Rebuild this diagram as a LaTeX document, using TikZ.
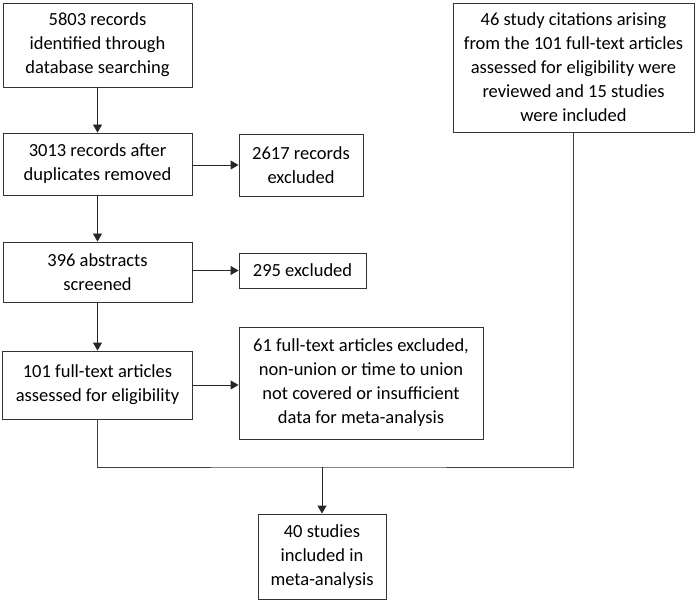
\documentclass[tikz,border=0pt]{standalone}
\usepackage{fontspec}
\setmainfont{Carlito}
\usetikzlibrary{arrows.meta}

\begin{document}
\begin{tikzpicture}[
		x=1pt, y=-1pt,
		every node/.style={rectangle, draw=black!80, line width=0.9pt, align=center, inner sep=0pt,
			font=\fontsize{18.5}{24}\selectfont},
		arr/.style={draw=black!85, line width=0.9pt, -{Triangle[length=8pt, width=9pt]}},
		ln/.style={draw=black!75, line width=0.9pt}
	]
  \useasboundingbox (0,0) rectangle (700,601);
  \node (rec_db) [minimum width=189pt, minimum height=84pt] at (97.5, 45) {5803 records\\identified through\\database searching};
  \node (rec_dup) [minimum width=189pt, minimum height=62pt] at (97.5, 164) {3013 records after\\duplicates removed};
  \node (rec_excl) [minimum width=124pt, minimum height=62pt] at (301, 165) {2617 records\\excluded};
  \node (abs_scr) [minimum width=189pt, minimum height=60pt] at (97.5, 272) {396 abstracts\\screened};
  \node (abs_excl) [minimum width=127pt, minimum height=35pt] at (302.5, 270.5) {295 excluded};
  \node (full_txt) [minimum width=190pt, minimum height=68pt] at (97.5, 385) {101 full-text articles\\assessed for eligibility};
  \node (full_excl) [minimum width=244pt, minimum height=112pt] at (361, 383) {61 full-text articles excluded,\\non-union or time to union\\not covered or insufficient\\data for meta-analysis};
  \node (cit) [minimum width=241pt, minimum height=129pt] at (573.5, 67.5) {46 study citations arising\\from the 101 full-text articles\\assessed for eligibility were\\reviewed and 15 studies\\were included};
  \node (incl) [minimum width=128pt, minimum height=85pt] at (322, 556.5) {40 studies\\included in\\meta-analysis};
  \coordinate (join) at (322, 467);
  \draw [arr] (rec_db) -- (rec_dup);
  \draw [arr] (rec_dup.east |- rec_excl.west) -- (rec_excl.west);
  \draw [arr] (rec_dup) -- (abs_scr);
  \draw [arr] (abs_scr.east |- abs_excl.west) -- (abs_excl.west);
  \draw [arr] (abs_scr) -- (full_txt);
  \draw [arr] (full_txt.east) -- (full_txt.east -| full_excl.west);
  \draw [ln] (full_txt.south) |- (join) -| (cit.south);
  \draw [arr] (join) -- (incl.north);
\end{tikzpicture}
\end{document}
